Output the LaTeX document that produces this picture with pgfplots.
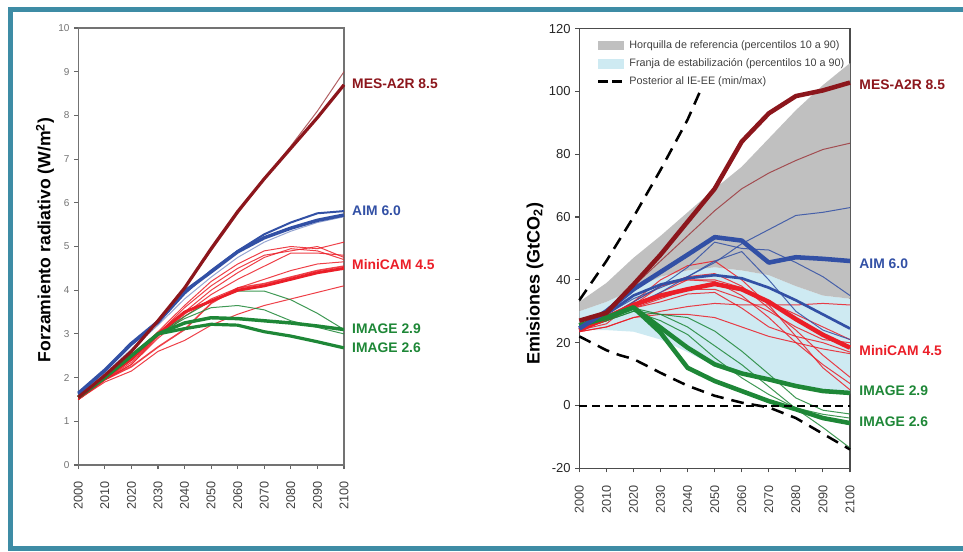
\documentclass[border=0pt]{standalone}
\usepackage{fontspec}
\setmainfont{Liberation Sans}
\usepackage{pgfplots}
\usepackage{pgfplotstable}
\pgfplotsset{compat=1.18}
\definecolor{framec}{RGB}{62,140,165}
\definecolor{mesred}{RGB}{140,22,28}
\definecolor{aimblue}{RGB}{50,80,165}
\definecolor{mcred}{RGB}{235,30,40}
\definecolor{imgreen}{RGB}{30,135,55}
\definecolor{bandgray}{RGB}{192,192,192}
\definecolor{bandblue}{RGB}{206,234,242}

\pgfplotstableread{
year mes mest aim aim2 aim3 mc r1 r2 r3 r4 r5 r6 r7 i29 i26 g1 g2
2000 1.55 1.55 1.64 1.62 1.58 1.55 1.50 1.50 1.50 1.50 1.50 1.50 1.50 1.55 1.55 1.55 1.55
2010 2.05 2.05 2.17 2.15 2.10 2.00 2.00 1.95 1.95 1.95 1.95 1.90 1.95 2.00 2.00 2.00 2.00
2020 2.60 2.60 2.78 2.75 2.65 2.42 2.45 2.40 2.35 2.30 2.30 2.15 2.25 2.50 2.50 2.50 2.50
2030 3.30 3.30 3.28 3.25 3.20 3.00 3.05 3.00 2.95 2.95 2.90 2.60 2.70 3.00 3.00 3.00 3.00
2040 4.05 4.05 3.97 3.92 3.80 3.50 3.65 3.60 3.50 3.45 3.40 2.85 3.10 3.25 3.12 3.40 3.35
2050 4.95 4.90 4.42 4.45 4.30 3.75 4.20 4.10 4.00 3.90 3.80 3.20 3.70 3.37 3.22 3.75 3.60
2060 5.80 5.75 4.88 4.90 4.75 4.00 4.60 4.50 4.40 4.25 4.05 3.45 4.05 3.35 3.20 3.98 3.65
2070 6.55 6.55 5.20 5.28 5.10 4.10 4.90 4.80 4.75 4.55 4.25 3.65 4.15 3.30 3.05 3.98 3.55
2080 7.25 7.30 5.42 5.55 5.35 4.25 5.00 4.90 4.95 4.85 4.45 3.80 4.30 3.25 2.95 3.78 3.30
2090 7.95 8.10 5.60 5.76 5.55 4.40 4.95 5.00 4.90 4.85 4.60 3.95 4.45 3.18 2.82 3.47 3.15
2100 8.70 9.00 5.72 5.81 5.68 4.50 5.10 4.75 4.70 4.80 4.65 4.10 4.55 3.10 2.68 3.10 3.00
}\forcing

\pgfplotstableread{
year mes mest aim b1 b2 b3 b4 mc r1 r2 r3 r4 r5 r6 r7 r8 i29 i26 g1 g2 g3
2000 27 27 24.5 24.5 24 24 24 24 24 24 23.5 23.5 24 24 24 24 25.5 25.5 25 25 25
2010 29.5 29.5 30 29 29 28 28 28 26 27 25 25 27 27 28 27 28 28 28 27 27
2020 38.5 38 37 34 35 33 32 32 33 32 28 28 31 31 33 31 31.2 31.2 31 30 30
2030 48 46 42.5 37.5 38.5 38 36 35 40 38 30 29 36 34 38 33 24.8 23.2 29 27 29
2040 58.5 54 48 41 40.5 44 41 37 44.5 40 31.5 29 40 37 41 35.5 18.4 12 28 22.6 25
2050 69 62 53.6 45.5 41.5 52 46 38.7 46 39.5 32.5 28 40 37 42 36 13.1 7.8 23.7 15.2 19
2060 84 69 52.5 51.5 40.5 50 49 37 40 35 32 25 37.5 34 38 31 10.2 4.6 17.3 8.8 13
2070 93 74 45.5 56 37.5 49.5 40 33 32 28 32 22 33 30 31 25 8.3 1.4 10 3.5 6
2080 98.5 78 47.2 60.5 33.5 45.5 30 27.5 22 20 32 20 29 25 24 22 6.2 -1.2 2.4 -0.8 -1
2090 100.3 81.5 46.7 61.5 29 41 24 22.5 12 13 32.5 18 25 21 16 20 4.6 -4 -1.5 -2.8 -7
2100 102.8 83.5 46 63 24.5 35 21 18.4 5 7 32 16.5 21 20 9 17 4.0 -5.6 -2.7 -4 -13.5
}\emis

\tikzset{
  thinl/.style={line width=0.75pt, opacity=0.85, line join=round},
  lab/.style={anchor=west, inner sep=0pt, font=\bfseries\fontsize{10.4}{10.4}\selectfont},
}
\pgfplotsset{
  common/.style={
    anchor=south west, scale only axis,
    xmin=2000, xmax=2100,
    xtick={2000,2010,...,2100},
    tick align=outside, tick pos=left,
    major tick length=3pt,
    /pgf/number format/assume math mode=true,
    /pgf/number format/1000 sep={},
    x tick label style={rotate=90, anchor=east, font=\fontsize{9.5}{9.5}\selectfont, color=black!75},
    xticklabel shift=6pt,
    clip=false,
  },
}

\begin{document}
\begin{tikzpicture}[x=0.75pt,y=0.75pt]
\useasboundingbox (0,0) rectangle (963,551);
\draw[framec, line width=3.75pt] (10.8,2.3) rectangle (990,541.8);

% ---------------- left panel ----------------
\begin{axis}[common,
  at={(58.7pt,64.5pt)}, width=199.3pt, height=327.75pt,
  ymin=0, ymax=10, ytick={0,1,...,10},
  axis line style={draw=black!55, line width=1.1pt},
  every tick/.style={black!60, line width=0.8pt},
  y tick label style={font=\fontsize{7.5}{7.5}\selectfont, color=black!55},
  ylabel={Forzamiento radiativo (W/m\textsuperscript{2})},
  every axis y label/.style={at={(axis description cs:-0.125,0.515)}, rotate=90, anchor=center, font=\bfseries\fontsize{13.2}{13.2}\selectfont},
]
\addplot[forget plot, thinl, mcred] table[x=year,y=r1] {\forcing};
\addplot[forget plot, thinl, mcred] table[x=year,y=r2] {\forcing};
\addplot[forget plot, thinl, mcred] table[x=year,y=r3] {\forcing};
\addplot[forget plot, thinl, mcred] table[x=year,y=r4] {\forcing};
\addplot[forget plot, thinl, mcred] table[x=year,y=r5] {\forcing};
\addplot[forget plot, thinl, mcred] table[x=year,y=r6] {\forcing};
\addplot[forget plot, thinl, mcred, line width=1.2pt] table[x=year,y=r7] {\forcing};
\addplot[forget plot, thinl, imgreen] table[x=year,y=g1] {\forcing};
\addplot[forget plot, thinl, imgreen] table[x=year,y=g2] {\forcing};
\addplot[forget plot, mcred, line width=2.2pt, line join=round] table[x=year,y=mc] {\forcing};
\addplot[forget plot, imgreen, line width=2.6pt, line join=round] table[x=year,y=i29] {\forcing};
\addplot[forget plot, imgreen, line width=2.4pt, line join=round] table[x=year,y=i26] {\forcing};
\addplot[forget plot, thinl, aimblue!60] table[x=year,y=aim3] {\forcing};
\addplot[forget plot, aimblue, line width=1.5pt, line join=round] table[x=year,y=aim2] {\forcing};
\addplot[forget plot, aimblue, line width=2.6pt, line join=round] table[x=year,y=aim] {\forcing};
\addplot[forget plot, thinl, mesred!80] table[x=year,y=mest] {\forcing};
\addplot[forget plot, mesred, line width=2.4pt, line join=round] table[x=year,y=mes] {\forcing};
\node[lab, text=mesred] at (axis cs:2103,8.72) {MES-A2R 8.5};
\node[lab, text=aimblue] at (axis cs:2103,5.81) {AIM 6.0};
\node[lab, text=mcred] at (axis cs:2103,4.58) {MiniCAM 4.5};
\node[lab, text=imgreen] at (axis cs:2103,3.11) {IMAGE 2.9};
\node[lab, text=imgreen] at (axis cs:2103,2.68) {IMAGE 2.6};
\end{axis}

% ---------------- right panel ----------------
\begin{axis}[common,
  at={(434.5pt,62pt)}, width=203pt, height=329.85pt,
  ymin=-20, ymax=120, ytick={-20,0,...,120},
  axis line style={draw=black!70, line width=1.1pt},
  every tick/.style={black!70, line width=0.8pt},
  y tick label style={font=\fontsize{9.75}{9.75}\selectfont, color=black!85},
  ylabel={Emisiones (GtCO\textsubscript{2})},
  every axis y label/.style={at={(axis description cs:-0.164,0.42)}, rotate=90, anchor=center, font=\bfseries\fontsize{13.5}{13.5}\selectfont},
  legend style={at={(axis description cs:0.065,0.975)}, anchor=north west, draw=none, fill=none,
    inner sep=0pt, column sep=4.5pt, row sep=5.4pt,
    font=\fontsize{8.1}{8.1}\selectfont, text=black!75,
    nodes={inner sep=0pt, text height=6.2pt, text depth=2pt}},
  legend cell align=left,
]
% bands
\addplot[forget plot, fill=bandblue, draw=none] coordinates {
 (2000,24) (2010,24) (2020,23.5) (2030,21) (2040,17) (2050,12.5) (2060,9.8) (2070,7.8) (2080,5.8) (2090,4.3) (2100,3.8)
 (2100,34) (2090,35) (2080,38) (2070,41.5) (2060,43) (2050,44) (2040,43) (2030,41) (2020,37) (2010,33) (2000,30)} -- cycle;
\addplot[forget plot, fill=bandgray, draw=none] coordinates {
 (2000,30) (2010,33) (2020,37) (2030,41) (2040,43) (2050,44) (2060,43) (2070,41.5) (2080,38) (2090,35) (2100,34)
 (2100,109) (2090,102) (2080,94) (2070,85) (2060,76) (2050,69) (2040,61.5) (2030,54) (2020,47) (2010,39) (2000,33)} -- cycle;
% thin lines
\addplot[forget plot, thinl, mcred] table[x=year,y=r1] {\emis};
\addplot[forget plot, thinl, mcred] table[x=year,y=r2] {\emis};
\addplot[forget plot, thinl, mcred] table[x=year,y=r3] {\emis};
\addplot[forget plot, thinl, mcred] table[x=year,y=r4] {\emis};
\addplot[forget plot, thinl, mcred] table[x=year,y=r5] {\emis};
\addplot[forget plot, thinl, mcred] table[x=year,y=r6] {\emis};
\addplot[forget plot, thinl, mcred] table[x=year,y=r7] {\emis};
\addplot[forget plot, thinl, mcred] table[x=year,y=r8] {\emis};
\addplot[forget plot, thinl, imgreen] table[x=year,y=g1] {\emis};
\addplot[forget plot, thinl, imgreen] table[x=year,y=g2] {\emis};
\addplot[forget plot, thinl, imgreen] table[x=year,y=g3] {\emis};
\addplot[forget plot, thinl, aimblue] table[x=year,y=b1] {\emis};
\addplot[forget plot, thinl, aimblue] table[x=year,y=b3] {\emis};
\addplot[forget plot, thinl, aimblue] table[x=year,y=b4] {\emis};
\addplot[forget plot, thinl, mesred!85] table[x=year,y=mest] {\emis};
% thick lines
\addplot[forget plot, aimblue, line width=2pt, line join=round] table[x=year,y=b2] {\emis};
\addplot[forget plot, mcred, line width=3.4pt, line join=round] table[x=year,y=mc] {\emis};
\addplot[forget plot, imgreen, line width=3.4pt, line join=round] table[x=year,y=i29] {\emis};
\addplot[forget plot, imgreen, line width=3.4pt, line join=round] table[x=year,y=i26] {\emis};
\addplot[forget plot, aimblue, line width=3.4pt, line join=round] table[x=year,y=aim] {\emis};
\addplot[forget plot, mesred, line width=3.4pt, line join=round] table[x=year,y=mes] {\emis};
% dashed lines
\addplot[forget plot, black, line width=1.5pt, dash pattern=on 6pt off 3.6pt] coordinates {(2000,0) (2100,0)};
\addplot[forget plot, black, line width=1.9pt, dash pattern=on 9.5pt off 6pt] coordinates {
 (2000,33.5) (2010,46) (2020,60) (2030,75) (2040,91) (2044.6,100)};
\addplot[forget plot, black, line width=1.9pt, dash pattern=on 9.5pt off 6pt] coordinates {
 (2000,22) (2010,17.6) (2015,16) (2020,14.8) (2030,10.4) (2040,6.3) (2050,3.1) (2060,0.9) (2070,-0.6) (2080,-4) (2090,-9) (2100,-14)};
% legend
\addlegendimage{legend image code/.code={\fill[bandgray] (0pt,-3.3pt) rectangle (18.75pt,3.3pt);}}
\addlegendentry{Horquilla de referencia (percentilos 10 a 90)}
\addlegendimage{legend image code/.code={\fill[bandblue] (0pt,-3.3pt) rectangle (18.75pt,3.3pt);}}
\addlegendentry{Franja de estabilizaci\'on (percentilos 10 a 90)}
\addlegendimage{legend image code/.code={\draw[black, line width=1.9pt, dash pattern=on 7pt off 3.5pt] (0.5pt,0pt) -- (18.25pt,0pt);}}
\addlegendentry{Posterior al IE-EE (min/max)}
\node[lab, text=mesred] at (axis cs:2103.4,102) {MES-A2R 8.5};
\node[lab, text=aimblue] at (axis cs:2103.4,45.1) {AIM 6.0};
\node[lab, text=mcred] at (axis cs:2103.4,17.5) {MiniCAM 4.5};
\node[lab, text=imgreen] at (axis cs:2103.4,4.7) {IMAGE 2.9};
\node[lab, text=imgreen] at (axis cs:2103.4,-5.3) {IMAGE 2.6};
\end{axis}
\end{tikzpicture}
\end{document}
